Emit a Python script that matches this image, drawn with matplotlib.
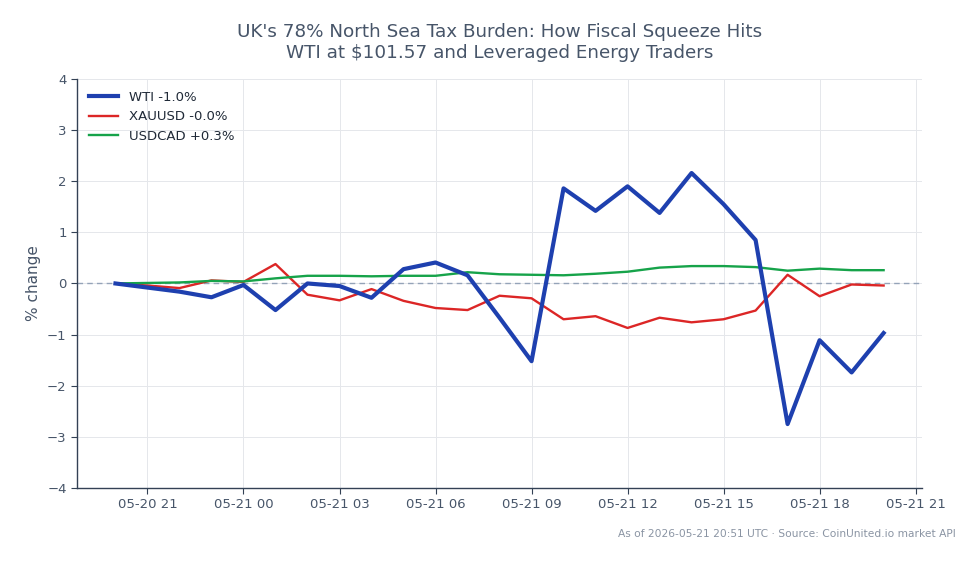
import matplotlib
matplotlib.use("Agg")
import matplotlib.pyplot as plt
import matplotlib.dates as mdates
import pandas as pd

times = pd.date_range("2026-05-20 20:00", "2026-05-21 20:00", freq="h")
wti = [0.0, -0.08, -0.16, -0.27, -0.03, -0.52, 0.0, -0.05, -0.28, 0.28, 0.41, 0.16,
       -0.67, -1.52, 1.86, 1.42, 1.90, 1.38, 2.16, 1.55, 0.85, -2.75, -1.11, -1.74, -0.97]
xau = [0.0, -0.04, -0.09, 0.06, 0.03, 0.38, -0.22, -0.33, -0.11, -0.34, -0.48, -0.52,
       -0.24, -0.29, -0.70, -0.64, -0.87, -0.67, -0.76, -0.70, -0.53, 0.17, -0.25, -0.02, -0.04]
cad = [0.0, 0.01, 0.02, 0.05, 0.04, 0.10, 0.15, 0.15, 0.14, 0.15, 0.15, 0.22,
       0.18, 0.17, 0.16, 0.19, 0.23, 0.31, 0.34, 0.34, 0.32, 0.25, 0.29, 0.26, 0.26]
labels = ["WTI -1.0%", "XAUUSD -0.0%", "USDCAD +0.3%"]
title = "UK's 78% North Sea Tax Burden: How Fiscal Squeeze Hits\nWTI at $101.57 and Leveraged Energy Traders"
footer = "As of 2026-05-21 20:51 UTC · Source: CoinUnited.io market API"

text_c = "#475569"
fig = plt.figure(figsize=(9.79, 5.64), dpi=100)
ax = fig.add_axes([0.0787, 0.1348, 0.8631, 0.7252])

ax.plot(times, wti, color="#1e40af", lw=3.0, label=labels[0], zorder=4)
ax.plot(times, xau, color="#dc2626", lw=1.7, label=labels[1], zorder=3)
ax.plot(times, cad, color="#16a34a", lw=1.7, label=labels[2], zorder=3)
ax.axhline(0, color="#94a3b8", lw=1.0, ls=(0, (4, 3)), zorder=1)

ax.set_ylim(-4, 4)
ax.set_yticks(range(-4, 5))
ax.xaxis.set_major_locator(mdates.HourLocator(byhour=range(0, 24, 3)))
ax.xaxis.set_major_formatter(mdates.DateFormatter("%m-%d %H"))
ax.grid(True, color="#e5e7eb", lw=0.7)
ax.set_axisbelow(True)
for s in ["top", "right"]:
    ax.spines[s].set_visible(False)
for s in ["left", "bottom"]:
    ax.spines[s].set_color("#334155")
    ax.spines[s].set_linewidth(1.0)
ax.tick_params(colors="#334155", labelcolor=text_c, labelsize=9.5, length=4)
ax.set_ylabel("% change", color=text_c, fontsize=11)
ax.legend(loc="upper left", frameon=False, fontsize=9.5, handlelength=2.2,
          labelcolor="#1f2937", borderaxespad=0.5)
ax.set_title(title, fontsize=13.2, color=text_c, pad=15)
fig.text(0.976, 0.045, footer, ha="right", va="bottom", fontsize=7.7, color="#8a94a3")
fig.savefig("out.png", dpi=100)
